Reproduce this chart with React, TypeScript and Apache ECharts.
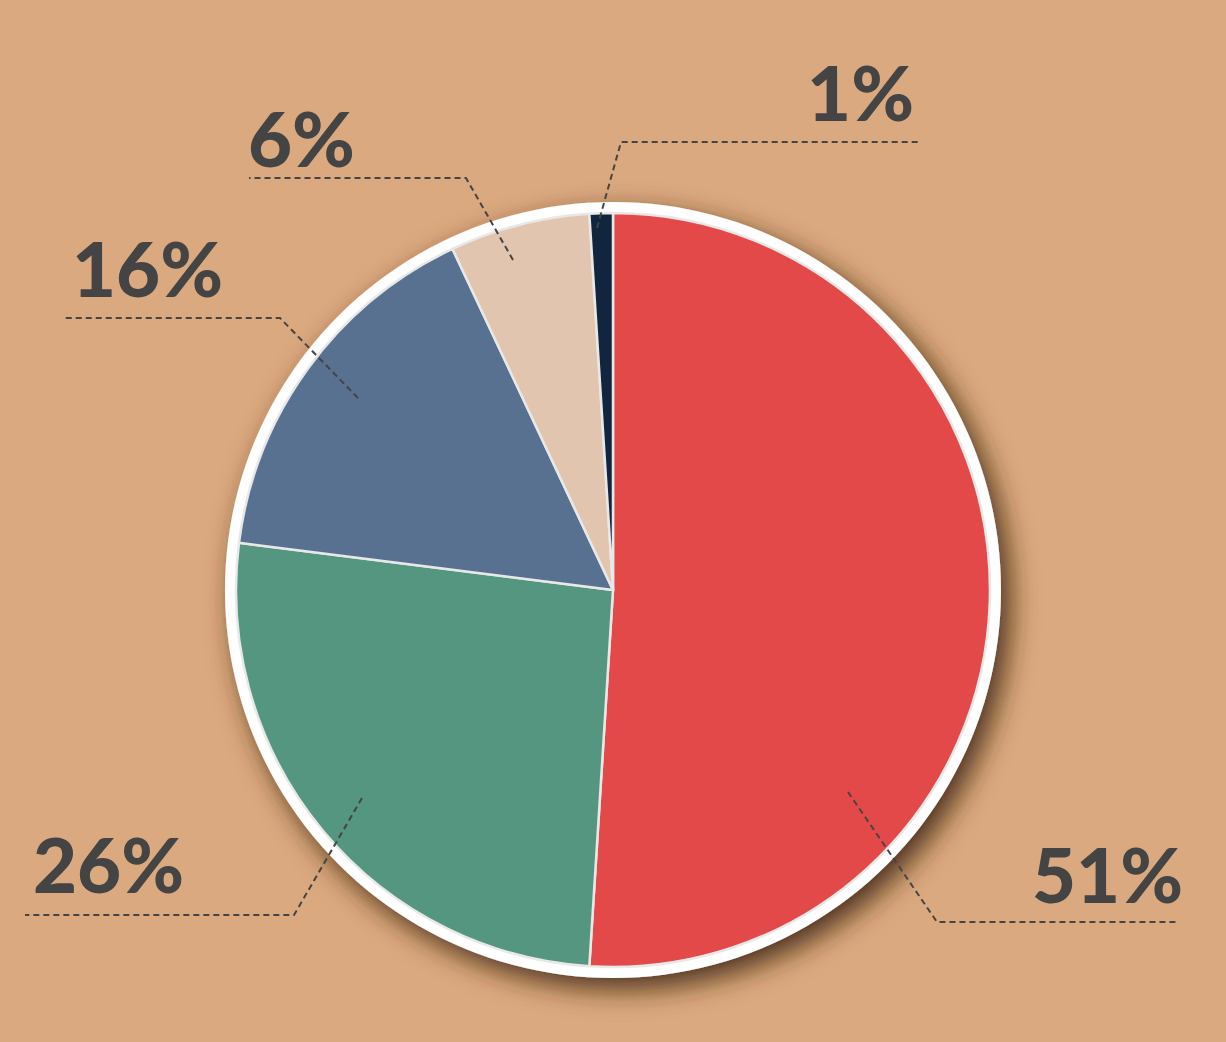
import React, { useEffect, useRef } from "react";
import * as echarts from "echarts";

const categories = ["A", "B", "C", "D", "E"];
const values = [51, 26, 16, 6, 1];
const colors = ["#E4494A", "#559680", "#587190", "#E2C5AF", "#12253F"];

// label layout: anchor of text and leader line points per slice
const labelText = [
  { x: 1183, y: 873, align: "right" },
  { x: 33, y: 863, align: "left" },
  { x: 72, y: 267, align: "left" },
  { x: 248, y: 137, align: "left" },
  { x: 914, y: 91, align: "right" },
];
const labelLines = [
  [[848, 792], [937, 922], [1177, 922]],
  [[362, 798], [294, 915], [25, 915]],
  [[358, 398], [280, 318], [63, 318]],
  [[513, 260], [466, 178], [249, 178]],
  [[597, 228], [621, 142], [918, 142]],
];

export default function App() {
  const ref = useRef<HTMLDivElement>(null);
  useEffect(() => {
    const chart = echarts.init(ref.current!, null, { renderer: "svg" });
    chart.setOption({
      animation: false,
      backgroundColor: "#DBA97F",
      graphic: labelLines.map((pts) => ({
        type: "polyline",
        z: 100,
        silent: true,
        shape: { points: pts },
        style: { stroke: "#444444", lineWidth: 2, lineDash: [6, 4], fill: null },
      })),
      series: [
        {
          type: "pie",
          silent: true,
          center: [613, 590],
          radius: [0, 388],
          label: { show: false },
          labelLine: { show: false },
          itemStyle: {
            color: "#FFFFFF",
            shadowBlur: 28,
            shadowOffsetX: 9,
            shadowOffsetY: 11,
            shadowColor: "rgba(60,35,10,0.9)",
          },
          data: [{ value: 1, name: "ring" }],
          z: 1,
        },
        {
          type: "pie",
          center: [613, 590],
          radius: [0, 377],
          startAngle: 90,
          clockwise: true,
          z: 2,
          itemStyle: { borderColor: "#E8E8E8", borderWidth: 2.5 },
          label: {
            show: true,
            position: "outside",
            formatter: (p: any) => p.value + "%",
            fontFamily: "Lato",
            fontWeight: 900,
            fontSize: 76,
            color: "#444444",
          },
          labelLine: { show: false },
          labelLayout: (params: any) => {
            const t = labelText[params.dataIndex];
            return { x: t.x, y: t.y, align: t.align, verticalAlign: "middle" };
          },
          data: categories.map((c, i) => ({
            name: c,
            value: values[i],
            itemStyle: { color: colors[i] },
          })),
        },
      ],
    });
    return () => chart.dispose();
  }, []);
  return (
    <div
      ref={ref}
      style={{ position: "fixed", left: 0, top: 0, width: 1226, height: 1042 }}
    />
  );
}
